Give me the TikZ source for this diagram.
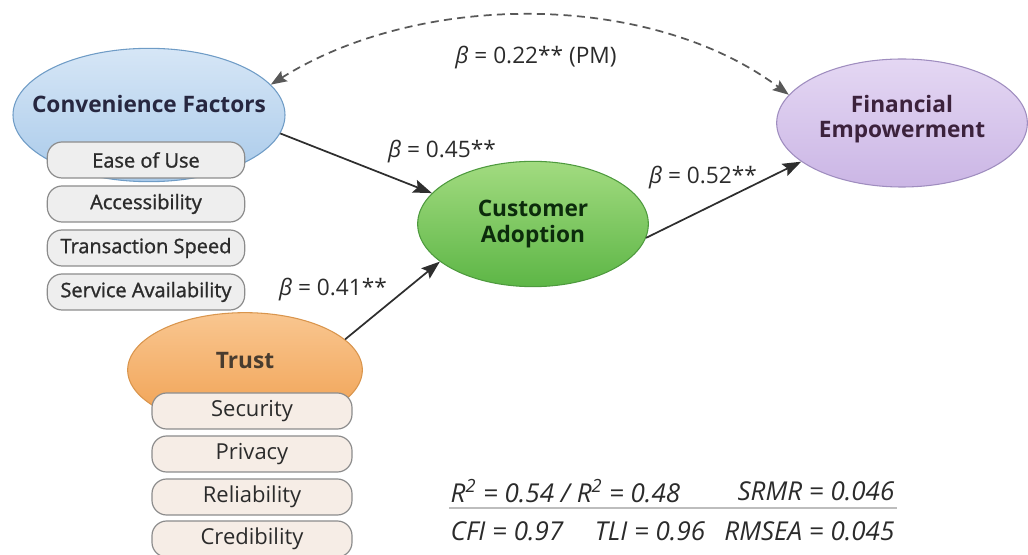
\documentclass[tikz,border=0pt]{standalone}
\usepackage{fontspec}
\setmainfont{Open Sans}
\newfontfamily\semifont[FakeBold=1.2]{Open Sans}
\usetikzlibrary{shapes.geometric,arrows.meta}
\definecolor{ink}{HTML}{2B2B2B}
\definecolor{edge}{HTML}{2E2E2E}
\definecolor{convtop}{HTML}{D6E6F6}
\definecolor{convbot}{HTML}{A9CAEA}
\definecolor{convline}{HTML}{6F9CC6}
\definecolor{trusttop}{HTML}{F9C690}
\definecolor{trustbot}{HTML}{F0A050}
\definecolor{trustline}{HTML}{D9954D}
\definecolor{adopttop}{HTML}{A2DB80}
\definecolor{adoptbot}{HTML}{5DB646}
\definecolor{adoptline}{HTML}{4E9A3E}
\definecolor{empowtop}{HTML}{E4D7F3}
\definecolor{empowbot}{HTML}{CBB6E5}
\definecolor{empowline}{HTML}{9F8DBF}
\definecolor{itemfill}{HTML}{EEEEEE}
\definecolor{titemfill}{HTML}{F6EDE6}
\definecolor{itemline}{HTML}{8C8C8C}
\definecolor{rule}{HTML}{BDBDBD}
\tikzset{
  latent/.style={ellipse, inner sep=0pt, inner xsep=-16pt, align=center,
    font=\bfseries\fontsize{17}{19}\selectfont},
  item/.style={draw=itemline, line width=0.9pt, rounded corners=11pt, fill=itemfill,
    minimum height=27pt, inner sep=0pt, text=ink},
  citem/.style={item, minimum width=148pt, font=\semifont\fontsize{15}{17}\selectfont},
  titem/.style={item, minimum width=150pt, fill=titemfill, font=\fontsize{16.5}{18}\selectfont},
  effect/.style={draw=edge, line width=1.3pt, -{Stealth[length=14pt,width=10pt,inset=2.5pt]}},
  covar/.style={draw=edge!80, line width=1.3pt, dash pattern=on 6pt off 4pt,
    {Stealth[length=12pt,width=9pt,inset=2pt]}-{Stealth[length=12pt,width=9pt,inset=2pt]}},
  coef/.style={text=ink, font=\fontsize{17}{19}\selectfont},
  fit/.style={text=ink, font=\itshape\fontsize{19.5}{21}\selectfont}
}

\begin{document}
\begin{tikzpicture}[x=0.75pt, y=-0.75pt]
\useasboundingbox (0,0) rectangle (1028,555);
% latent constructs
\node[latent, minimum width=204pt, minimum height=100pt, draw=convline, line width=0.8pt,
  top color=convtop, bottom color=convbot, text=ink!90!blue] (conv) at (149,115) {Convenience Factors\\[-3pt]\mbox{}};
\node[latent, minimum width=176pt, minimum height=86pt, draw=trustline, line width=0.8pt,
  top color=trusttop, bottom color=trustbot, text=ink!80!brown] (trust) at (245,370) {Trust\\[-5pt]\mbox{}};
\node[latent, minimum width=173pt, minimum height=94pt, draw=adoptline, line width=0.8pt,
  top color=adopttop, bottom color=adoptbot, text=ink!70!green!40!black] (adopt) at (533,224) {Customer\\Adoption};
\node[latent, minimum width=188pt, minimum height=96pt, draw=empowline, line width=0.8pt,
  top color=empowtop, bottom color=empowbot, text=ink!80!violet] (empow) at (902,123) {Financial\\Empowerment\\[-9pt]\mbox{}};

% indicators of convenience
\node[citem] (ease) at (146,160) {Ease of Use};
\node[citem] (access) at (146,204) {Accessibility};
\node[citem] (speed) at (146,248) {Transaction Speed};
\node[citem] (avail) at (146,292) {Service Availability};

% indicators of trust
\node[titem] (secur) at (252,411) {Security};
\node[titem] (priv) at (252,454) {Privacy};
\node[titem] (relia) at (252,497) {Reliability};
\node[titem] (credi) at (252,539) {Credibility};

% structural paths
\draw[effect] (conv.-8) -- (adopt.163);
\draw[effect] (trust.17) -- (adopt.202);
\draw[effect] (adopt.-7) -- (empow.201);
\draw[covar] (conv.14) .. controls (420,-9) and (650,-9) .. (empow.166);

% path coefficients
\node[coef] (b1) at (536,58) {{\itshape β} = 0.22** (PM)};
\node[coef] (b2) at (442,152) {{\itshape β} = 0.45**};
\node[coef] (b3) at (333,290) {{\itshape β} = 0.41**};
\node[coef] (b4) at (703,178) {{\itshape β} = 0.52**};

% model fit
\node[fit, anchor=west] (rsq) at (446,491) {R\textsuperscript{2} = 0.54 / R\textsuperscript{2} = 0.48};
\node[fit, anchor=east] (srmr) at (899,491) {SRMR = 0.046};
\coordinate (rl) at (449,508);
\coordinate (rr) at (897,508);
\draw[rule, line width=1.2pt] (rl) -- (rr);
\node[fit, anchor=west] (cfi) at (446,531) {CFI = 0.97};
\node[fit] (tli) at (650,531) {TLI = 0.96};
\node[fit, anchor=east] (rmsea) at (899,531) {RMSEA = 0.045};
\end{tikzpicture}
\end{document}
